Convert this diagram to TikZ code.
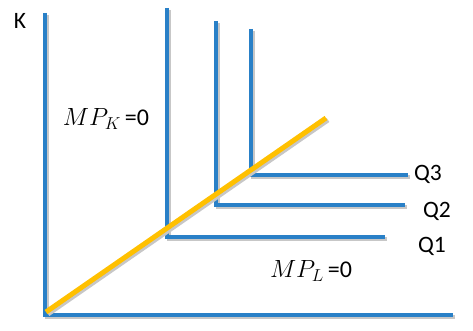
\documentclass[tikz,border=0pt]{standalone}
\usepackage{fontspec}
\setmainfont{Carlito}
\usepackage{tikz}
\usetikzlibrary{calc}

\definecolor{isoblue}{RGB}{41,128,199}
\definecolor{rayyellow}{RGB}{255,192,0}

\begin{document}
\begin{tikzpicture}[
  x=1pt, y=-1pt,
  shadowed/.style={preaction={draw=black!22, line width=4.8pt, transform canvas={shift={(2pt,-2pt)}}}},
  axis/.style={shadowed, draw=isoblue, line width=4.8pt, line join=miter},
  iso/.style={shadowed, draw=isoblue, line width=4.8pt, line join=miter},
  ray/.style={shadowed, draw=rayyellow, line width=5pt},
  lbl/.style={font=\fontsize{23.5}{26}\selectfont, inner sep=0pt},
  mlbl/.style={font=\fontsize{24}{27}\selectfont, inner sep=0pt}
  ]
  \useasboundingbox (0,0) rectangle (473,331);
  % axes
  \coordinate (ktop) at (45,13);
  \coordinate (orig) at (45,315);
  \coordinate (lend) at (453,315);
  \draw[axis] (ktop) -- (orig) -- (lend);
  % isoquants
  \coordinate (q1top) at (167,8);
  \coordinate (q1c)   at (167,237);
  \coordinate (q1end) at (385,237);
  \coordinate (q2top) at (216,21);
  \coordinate (q2c)   at (216,205);
  \coordinate (q2end) at (405,205);
  \coordinate (q3top) at (251,29);
  \coordinate (q3c)   at (251,175);
  \coordinate (q3end) at (408,175);
  \draw[iso] (q1top) -- (q1c) -- (q1end);
  \draw[iso] (q2top) -- (q2c) -- (q2end);
  \draw[iso] (q3top) -- (q3c) -- (q3end);
  % expansion path
  \coordinate (rayend) at (326,118);
  \draw[ray] ($(orig)+(1,-3)$) coordinate (raystart) -- (rayend);
  % labels
  \node[lbl] (klab)  at (20,21)   {K};
  \node[lbl] (q3lab) at (428,174) {Q3};
  \node[lbl] (q2lab) at (437,211) {Q2};
  \node[lbl] (q1lab) at (432,246) {Q1};
  \node[mlbl] (mpk)  at (106,119) {$MP_K$\,=0};
  \node[mlbl] (mpl)  at (311,271) {$MP_L$\,=0};
\end{tikzpicture}
\end{document}
